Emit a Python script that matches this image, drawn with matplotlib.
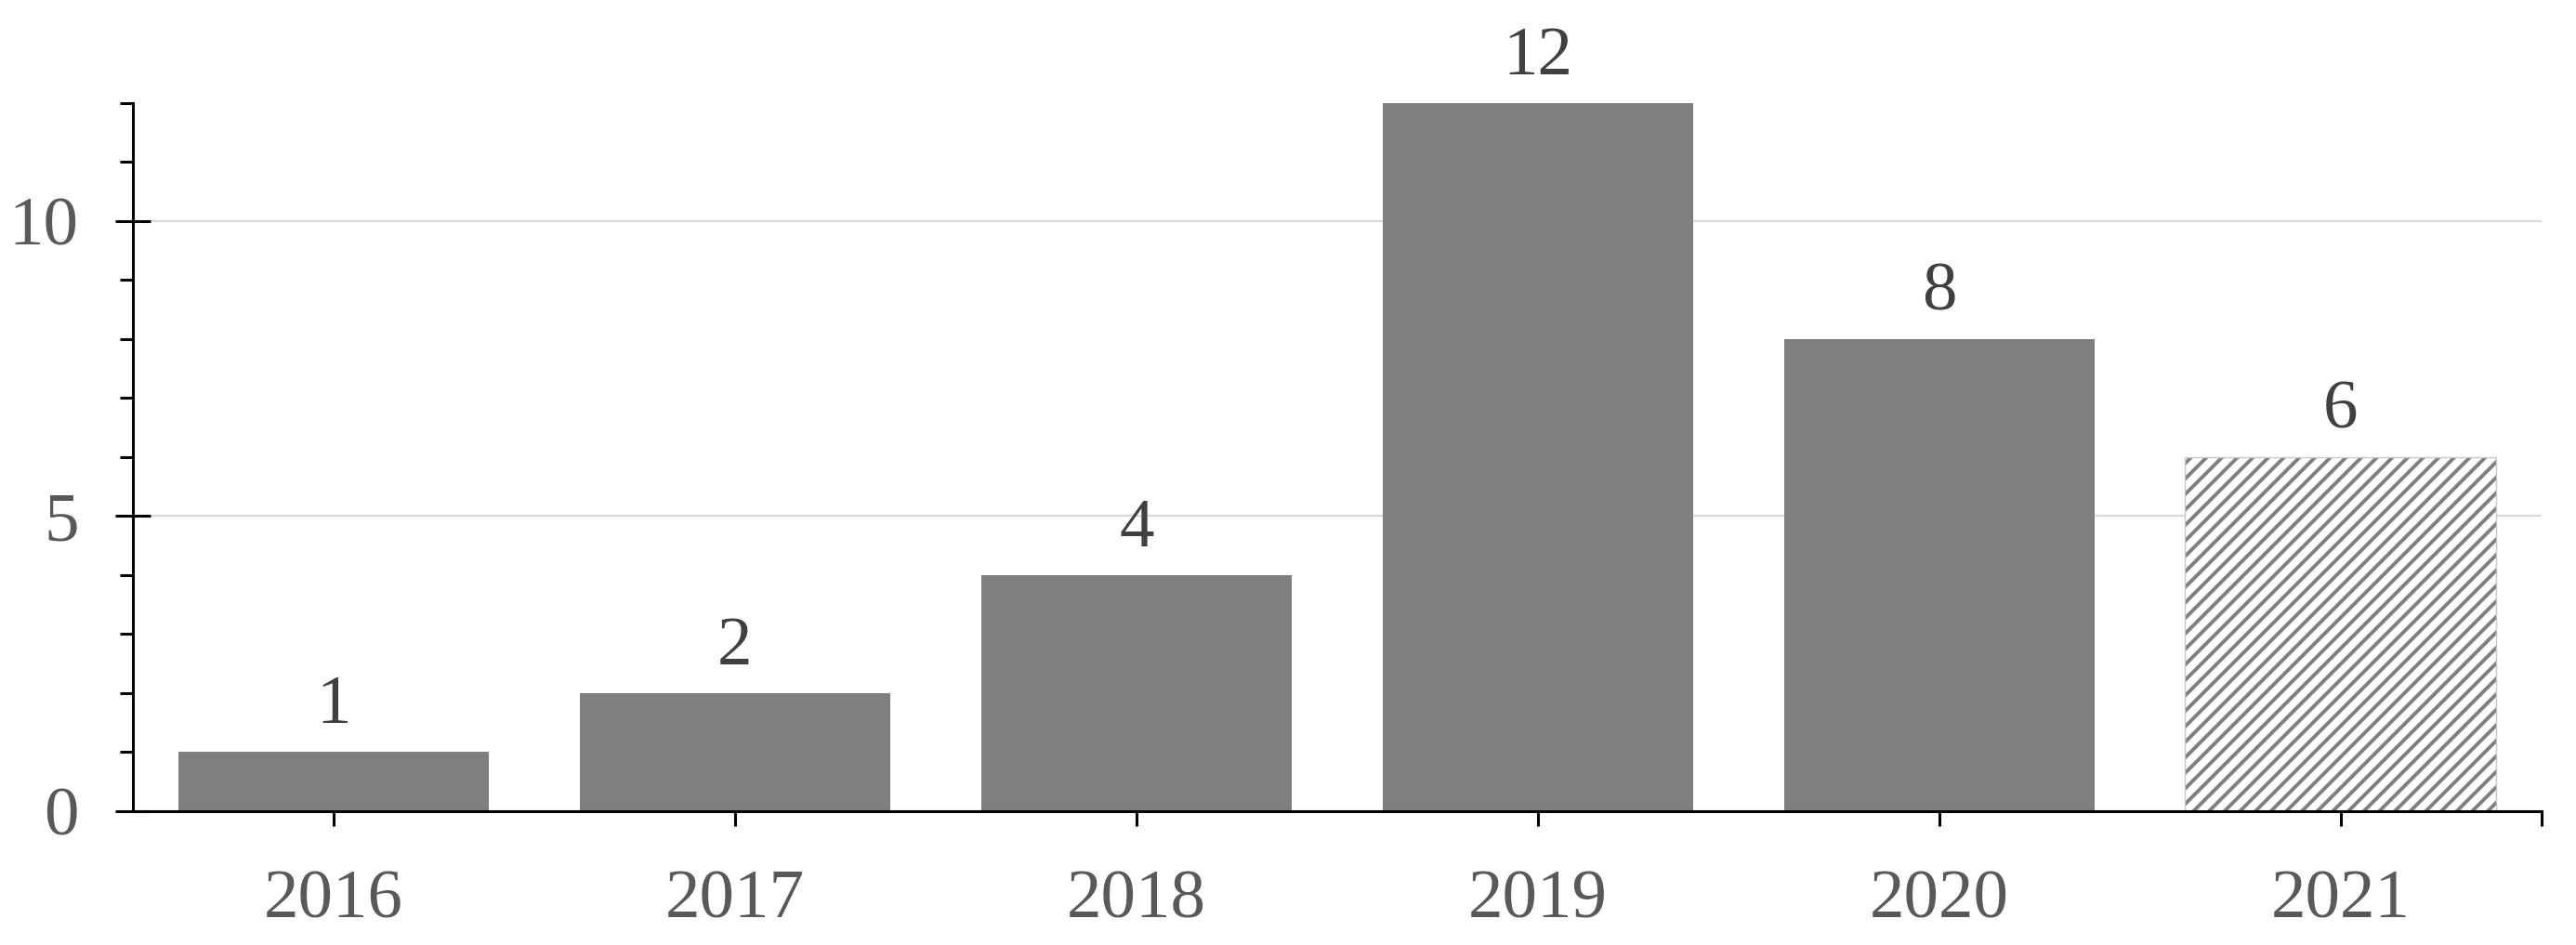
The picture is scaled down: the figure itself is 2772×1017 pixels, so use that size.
"""
plot.py - yearly counts bar chart, last year hatched (partial year).
"""

import matplotlib
matplotlib.use('Agg')
import matplotlib.pyplot as plt
from matplotlib.ticker import MultipleLocator, FixedLocator

# ── Data ───────────────────────────────────────────────────────────────────────
years = ['2016', '2017', '2018', '2019', '2020', '2021']
counts = [1, 2, 4, 12, 8, 6]
hatched = [False, False, False, False, False, True]

# ── Style ──────────────────────────────────────────────────────────────────────
plt.rcParams['font.family'] = ['Liberation Serif', 'DejaVu Serif']
plt.rcParams['hatch.linewidth'] = 2.8

BAR_GREY = '#7f7f7f'
TICK_TEXT = '#595959'
VALUE_TEXT = '#404040'


def main():
    fig = plt.figure(figsize=(27.72, 10.17), dpi=100)
    ax = fig.add_axes([0.0516, 0.1416, 0.9350, 0.7494])

    x = list(range(len(years)))
    for xi, val, h in zip(x, counts, hatched):
        if h:
            # hatch takes the edge colour, so draw the outline separately
            ax.bar(xi, val, width=0.775, color='white', edgecolor=BAR_GREY,
                   hatch='//', linewidth=0, zorder=3)
            ax.bar(xi, val, width=0.775, fill=False, edgecolor='#c8c8c8',
                   linewidth=1.0, zorder=3)
        else:
            ax.bar(xi, val, width=0.775, color=BAR_GREY, linewidth=0, zorder=3)
        ax.annotate(str(val), (xi, val), xytext=(0, 11), textcoords='offset points',
                    ha='center', va='bottom', fontsize=54, color=VALUE_TEXT)

    ax.set_xlim(-0.5, len(years) - 0.5)
    ax.set_ylim(0, 12)

    # y axis: major every 5 (crossing), minor every 1 (outside)
    ax.yaxis.set_major_locator(MultipleLocator(5))
    ax.yaxis.set_minor_locator(MultipleLocator(1))
    ax.tick_params(axis='y', which='major', direction='inout', length=28, width=2.2,
                   labelsize=54, labelcolor=TICK_TEXT, pad=28)
    ax.tick_params(axis='y', which='minor', direction='out', length=10, width=2.2)

    # x axis: ticks at bar centres plus one at the right end
    ax.set_xticks(x)
    ax.set_xticklabels(years)
    ax.xaxis.set_minor_locator(FixedLocator([len(years) - 0.5]))
    ax.tick_params(axis='x', which='major', direction='out', length=11.5, width=2.2,
                   labelsize=54, labelcolor=TICK_TEXT, pad=34)
    ax.tick_params(axis='x', which='minor', direction='out', length=11.5, width=2.2)

    ax.yaxis.grid(True, which='major', color='#d9d9d9', linewidth=1.6, zorder=0)
    ax.set_axisbelow(True)

    for side in ['top', 'right']:
        ax.spines[side].set_visible(False)
    for side in ['left', 'bottom']:
        ax.spines[side].set_linewidth(2.2)
        ax.spines[side].set_zorder(4)

    fig.savefig('out.png', dpi=100)
    plt.close(fig)


if __name__ == '__main__':
    main()
